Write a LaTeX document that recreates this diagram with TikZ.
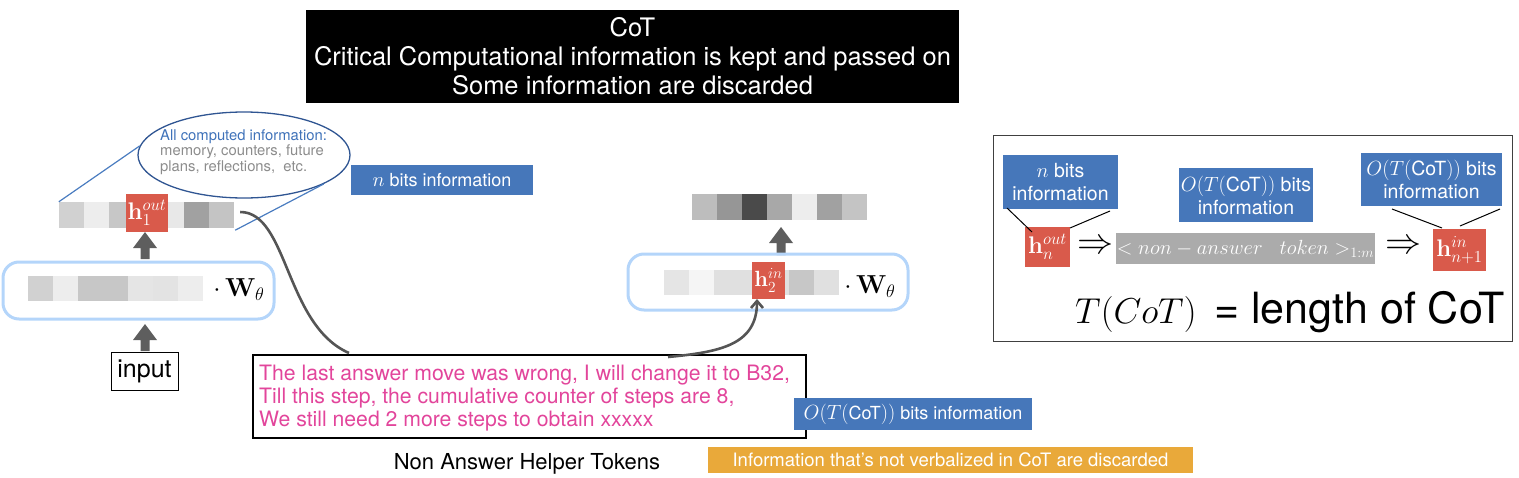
\RequirePackage{fix-cm}
\documentclass[tikz,border=0pt]{standalone}
\usepackage[no-math]{fontspec}
\setmainfont{TeX Gyre Heros}
\usetikzlibrary{arrows.meta,shapes.geometric}
\definecolor{labblue}{HTML}{4677BA}
\definecolor{hred}{HTML}{D95A4B}
\definecolor{orangelab}{HTML}{E9A93A}
\definecolor{pinktext}{HTML}{E2459B}
\definecolor{layblue}{HTML}{B4D5FA}
\definecolor{ellblue}{HTML}{2F5592}
\definecolor{linblue}{HTML}{4A7CC0}
\definecolor{elltext}{HTML}{3F72B9}
\definecolor{ellgray}{HTML}{8C8C8C}
\definecolor{arrgray}{HTML}{5E5E5E}
\definecolor{curvegray}{HTML}{555555}
\definecolor{barclr}{HTML}{ABABAB}
\newcommand{\fs}[1]{\fontsize{#1}{#1}\selectfont}
\newcommand{\blockarr}[3]{% x, top y, bottom y
  \fill[arrgray] (#1-4.5,#3) -- (#1-4.5,#2+16) -- (#1-12,#2+16) -- (#1,#2) -- (#1+12,#2+16) -- (#1+4.5,#2+16) -- (#1+4.5,#3) -- cycle;}
\newcommand{\cells}[4]{% x0, y0, height, list of darkness
  \foreach \c [count=\i from 0] in {#4} {\fill[black!\c] (#1+25*\i,#2) rectangle ++(25,#3);}}
\newcommand{\lgmath}[1]{{\fontsize{20.5}{22}\selectfont$#1$}}
\tikzset{
  bluelab/.style={fill=labblue, text=white, inner sep=0pt, align=center, font=\fontsize{18}{22}\selectfont},
  rlab/.style={bluelab, font=\fontsize{19.5}{23}\selectfont},
  redbox/.style={fill=hred, text=white, inner sep=0pt},
  layer/.style={draw=layblue, line width=3pt, rounded corners=16pt},
  hole/.style={inner sep=0pt, minimum width=176pt, minimum height=26pt},
  curve/.style={draw=curvegray, line width=2.6pt},
}
\begin{document}
\begin{tikzpicture}[x=1pt,y=-1pt]
\useasboundingbox (0,0) rectangle (1519,477);
% title
\node[fill=black, text=white, minimum width=653pt, minimum height=93pt, inner sep=0pt, align=center,
  font=\fontsize{25.5}{29}\selectfont] (title) at (632.5,56.5)
  {CoT\\Critical Computational information is kept and passed on\\Some information are discarded};
% ellipse
\node[draw=ellblue, line width=1.3pt, ellipse, minimum width=212pt, minimum height=86pt] (ell) at (244,155) {};
\node[anchor=north west, inner sep=0pt, align=left, font=\fontsize{14.8}{15.5}\selectfont] (elltxt) at (160,129)
  {\textcolor{elltext}{All computed information:}\\\textcolor{ellgray}{memory, counters, future}\\\textcolor{ellgray}{plans, reflections,\ \ etc.}};
% left top vector
\node[hole] (vec1) at (147,215) {};
\cells{59}{202}{26}{18,7,22,22,9,37,23}
\node[redbox, minimum width=42pt, minimum height=38pt, font=\fs{24}] (h1) at (147,213) {$\mathbf{h}_1^{out}$};
\draw[linblue, line width=1.2pt] (ell.175) -- (vec1.north west);
\draw[linblue, line width=1.2pt] (ell.-20) -- ([yshift=-2pt]vec1.south east);
% left layer
\draw[layer] (3,262) rectangle (274,319);
\node[hole, minimum height=25pt] (vec2) at (116,288.5) {};
\cells{28}{276}{25}{18,7,22,22,10,11,7}
\node[font=\fs{26}, inner sep=0pt] (W1) at (239,290) {$\cdot\,\mathbf{W}_\theta$};
\blockarr{145}{232}{259}
\blockarr{145}{324}{351}
\node[draw, line width=0.8pt, minimum width=67pt, minimum height=38pt, inner sep=0pt, font=\fs{25}] (input) at (144.5,371) {input};
% n bits label
\node[bluelab, minimum width=182pt, minimum height=30pt] (nbits) at (442,180) {\lgmath{n} bits information};
% text box
\node[draw, line width=1.2pt, minimum width=553pt, minimum height=83pt, inner sep=0pt] (tb) at (529.5,396.5) {};
\node[anchor=west, inner sep=0pt, text=pinktext, align=left, font=\fontsize{21.2}{23.2}\selectfont] (tbtxt) at (259,398)
  {The last answer move was wrong, I will change it to B32,\\Till this step, the cumulative counter of steps are 8,\\We still need 2 more steps to obtain xxxxx};
\node[font=\fs{22}, inner sep=0pt] (nah) at (527,464) {Non Answer Helper Tokens};
\node[bluelab, minimum width=238pt, minimum height=32pt] (otbits) at (913,414) {\lgmath{O(T(}CoT\lgmath{))} bits information};
\node[fill=orangelab, text=white, minimum width=485pt, minimum height=26pt, inner sep=0pt, font=\fs{18.5}] (disc) at (950.5,460)
  {Information that’s not verbalized in CoT are discarded};
% middle
\node[hole] (vec3) at (780,207) {};
\cells{692}{194}{26}{26,41,71,34,7,37,23}
\blockarr{781}{227}{255}
\draw[layer] (628,254) rectangle (908,310);
\node[hole, minimum height=25pt] (vec4) at (752,282.5) {};
\cells{664}{270}{25}{10,4,12,12,12,22,12}
\node[redbox, minimum width=33pt, minimum height=37pt, font=\fs{22}] (h2) at (768.5,280.5) {$\mathbf{h}_2^{in}$};
\node[font=\fs{26}, inner sep=0pt] (W2) at (870,287) {$\cdot\,\mathbf{W}_\theta$};
% curves
\coordinate (c1s) at ([xshift=5pt,yshift=3pt]vec1.east);
\coordinate (c1e) at (349,353);
\draw[curve] (c1s) .. controls (288,212) and (285,325) .. (c1e);
\coordinate (c2s) at (668,357);
\coordinate (c2e) at (757,299);
\draw[curve, -{Straight Barb[length=7pt,width=12pt]}] (c2s) .. controls (720,352) and (757,345) .. (c2e);
% right panel
\draw[draw=black!75, line width=0.8pt] (993,135) rectangle (1512,341);
\node[rlab, minimum width=115pt, minimum height=54pt] (lab1) at (1060.5,182) {\lgmath{n} bits\\information};
\node[rlab, minimum width=134pt, minimum height=54pt] (lab2) at (1246,195) {\lgmath{O(T(}CoT\lgmath{))} bits\\information};
\node[rlab, minimum width=141pt, minimum height=53pt] (lab3) at (1431.5,179.5) {\lgmath{O(T(}CoT\lgmath{))} bits\\information};
\node[redbox, minimum width=45pt, minimum height=40pt, font=\fs{24}] (hn) at (1047.5,247) {$\mathbf{h}_n^{out}$};
\node[redbox, minimum width=53pt, minimum height=42pt, font=\fs{24}] (hn1) at (1459.5,250) {$\mathbf{h}_{n+1}^{in}$};
\node[fill=barclr, text=white, minimum width=259pt, minimum height=31pt, inner sep=0pt, font=\fs{20.5}] (bar) at (1245.5,248.5)
  {$<non-answer\;\;\; token>_{1:m}$};
\node[font=\fs{36}, inner sep=0pt] (imp1) at (1095,247) {$\Rightarrow$};
\node[font=\fs{36}, inner sep=0pt] (imp2) at (1403,247) {$\Rightarrow$};
\draw[line width=1pt] (1007,208) -- (1032,232);
\draw[line width=1pt] (1110,211) -- (1070,228);
\draw[line width=1pt] (1392,209) -- (1442,228);
\draw[line width=1pt] (1500,209) -- (1460,226);
\node[anchor=base west, inner sep=0pt, font=\fs{36}] (tmath) at (1075,323) {$T(CoT)$};
\node[anchor=base west, inner sep=0pt, font=\fs{43}] (tlen) at (1214,323) {= length of CoT};
\end{tikzpicture}
\end{document}
